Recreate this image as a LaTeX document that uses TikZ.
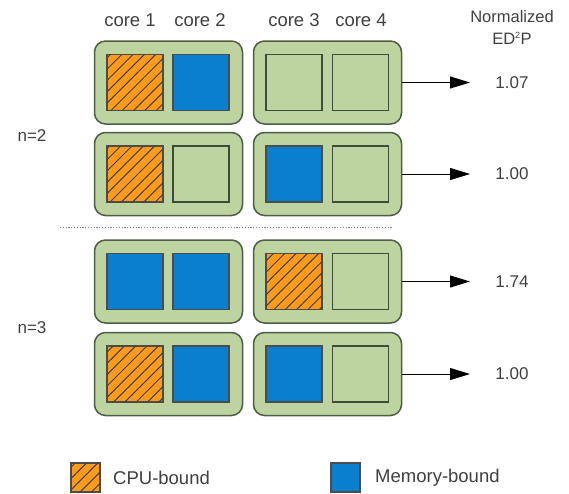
\documentclass[tikz,border=0pt]{standalone}
\usepackage{fontspec}
\setmainfont{Liberation Sans}
\usetikzlibrary{patterns.meta,arrows.meta}
\definecolor{contfill}{HTML}{BDD3A0}
\definecolor{contdraw}{HTML}{4E5E44}
\definecolor{cpuorange}{HTML}{FF9A1A}
\definecolor{memblue}{HTML}{0A7FD0}
\definecolor{txtgray}{HTML}{404040}
\tikzset{
  cont/.style={draw=contdraw, fill=contfill, line width=1.5pt, rounded corners=11pt, minimum width=148pt, minimum height=83pt, inner sep=0pt},
  core/.style={draw=contdraw!80!black, line width=1.5pt, minimum width=56pt, minimum height=56pt, inner sep=0pt},
  idle/.style={core, fill=contfill},
  mem/.style={core, fill=memblue, draw=black!70},
  cpu/.style={core, fill=cpuorange, draw=black!70,
    postaction={pattern={Lines[angle=45,distance=8pt,line width=1pt]}, pattern color=black!75}},
  lbl/.style={text=txtgray, font=\fontsize{17}{19}\selectfont, inner sep=0pt},
  big/.style={lbl, font=\fontsize{18.5}{20}\selectfont},
  arr/.style={line width=1pt, -{Triangle[length=20pt,width=12pt]}},
}
\begin{document}
\begin{tikzpicture}[x=1pt,y=-1pt]
\useasboundingbox (0,0) rectangle (569,493);
% headers
\node[big] (h1) at (130,20) {core 1};
\node[big] (h2) at (200,20) {core 2};
\node[big] (h3) at (294,20) {core 3};
\node[big] (h4) at (361,20) {core 4};
\node[lbl, font=\fontsize{16.5}{18}\selectfont] (hn) at (512,17) {Normalized};
\node[lbl, font=\fontsize{16.5}{18}\selectfont] (he) at (512,38) {ED\textsuperscript{\fontsize{9}{9}\selectfont 2}P};
% row containers
\foreach \r/\y in {1/82.5,2/174,3/281.5,4/374}{
  \node[cont] (L\r) at (168.5,\y) {};
  \node[cont] (R\r) at (327.5,\y) {};
  \coordinate (t\r) at (470,\y);
}
% row 1
\node[cpu]  (a11) at (135,82.5) {};
\node[mem]  (a12) at (201,82.5) {};
\node[idle] (a13) at (294,82.5) {};
\node[idle] (a14) at (360.5,82.5) {};
% row 2
\node[cpu]  (a21) at (135,174) {};
\node[idle] (a22) at (201,174) {};
\node[mem]  (a23) at (294,174) {};
\node[idle] (a24) at (360.5,174) {};
% row 3
\node[mem]  (a31) at (135,281.5) {};
\node[mem]  (a32) at (201,281.5) {};
\node[cpu]  (a33) at (294,281.5) {};
\node[idle] (a34) at (360.5,281.5) {};
% row 4
\node[cpu]  (a41) at (135,374) {};
\node[mem]  (a42) at (201,374) {};
\node[mem]  (a43) at (294,374) {};
\node[idle] (a44) at (360.5,374) {};
% arrows and values
\node[lbl] (v1) at (512,82.5) {1.07};
\node[lbl] (v2) at (512,174) {1.00};
\node[lbl] (v3) at (512,281.5) {1.74};
\node[lbl] (v4) at (512,374) {1.00};
\foreach \r in {1,...,4}{\draw[arr] (R\r.east) -- (t\r);}
% n labels
\node[lbl] (n2) at (32,136) {n=2};
\node[lbl] (n3) at (32,328) {n=3};
% separator
\coordinate (s1) at (60,227.5);
\coordinate (s2) at (393,227.5);
\draw[gray, line width=1.2pt, dash pattern=on 1.2pt off 1.6pt] (s1) -- (s2);
% legend
\node[cpu, minimum width=29pt, minimum height=29pt, line width=1.2pt] (lc) at (85.5,477.5) {};
\node[big, anchor=west] (lct) at (113,478) {CPU-bound};
\node[mem, minimum width=29pt, minimum height=29pt, line width=1.2pt] (lm) at (345.5,477.5) {};
\node[big, anchor=west] (lmt) at (375,478) {Memory-bound};
\end{tikzpicture}
\end{document}
